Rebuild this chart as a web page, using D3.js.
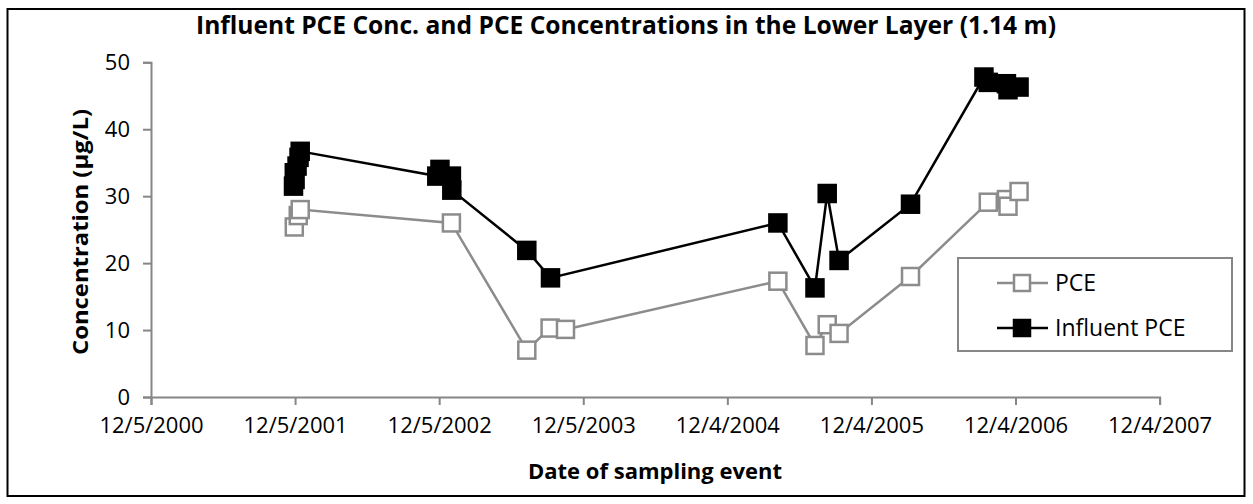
<!DOCTYPE html>
<html>
<head>
<meta charset="utf-8">
<script src="https://cdn.jsdelivr.net/npm/d3@7"></script>
<style>
  body { margin: 0; background: #fff; }
  text { font-family: "Open Sans", sans-serif; }
</style>
</head>
<body>
<svg id="chart" width="1253" height="504"></svg>
<script>
// Data
var pceDates = ["2001-12-03", "2001-12-13", "2001-12-18", "2003-01-05", "2003-07-15", "2003-09-12",
    "2003-10-21", "2005-04-11", "2005-07-14", "2005-08-14", "2005-09-13", "2006-03-13",
    "2006-09-26", "2006-11-11", "2006-11-15", "2006-12-13"];
var pceValues = [25.4, 27.1, 28.0, 26.0, 7.0, 10.3, 10.1, 17.3, 7.7, 10.8, 9.5, 18.0, 29.1, 29.5, 28.5, 30.7];

var influentDates = ["2001-12-01", "2001-12-03", "2001-12-05", "2001-12-10", "2001-12-15", "2001-12-18",
    "2002-11-29", "2002-12-07", "2003-01-05", "2003-01-06", "2003-07-15", "2003-09-13",
    "2005-04-11", "2005-07-14", "2005-08-14", "2005-09-13", "2006-03-13",
    "2006-09-15", "2006-09-26", "2006-11-11", "2006-11-15", "2006-12-13"];
var influentValues = [31.5, 33.5, 32.5, 34.5, 35.8, 36.7, 33.0, 34.0, 33.0, 30.9, 21.9, 17.8,
    26.0, 16.3, 30.4, 20.4, 28.8, 47.8, 47.0, 46.8, 45.9, 46.3];

var xTickLabels = ["12/5/2000", "12/5/2001", "12/5/2002", "12/5/2003", "12/4/2004", "12/4/2005", "12/4/2006", "12/4/2007"];
var yTicks = [0, 10, 20, 30, 40, 50];
var seriesNames = ["PCE", "Influent PCE"];

var parse = d3.timeParse("%Y-%m-%d");
var tickParse = d3.timeParse("%m/%d/%Y");
var fmt = d3.timeFormat("%-m/%-d/%Y");

var svg = d3.select("#chart");

// outer frame
svg.append("rect")
    .attr("x", 7.5).attr("y", 9)
    .attr("width", 1237).attr("height", 487)
    .attr("fill", "#fff")
    .attr("stroke", "#000")
    .attr("stroke-width", 2);

var xTickDates = xTickLabels.map(function (d) { return tickParse(d); });

var x = d3.scaleTime()
    .domain([xTickDates[0], xTickDates[xTickDates.length - 1]])
    .range([151, 1159.6]);
var y = d3.scaleLinear()
    .domain([0, 50])
    .range([397, 62.3]);

// axes
var xAxis = svg.append("g")
    .attr("transform", "translate(0,397)")
    .call(d3.axisBottom(x).tickValues(xTickDates).tickFormat(fmt).tickSize(8).tickPadding(12));
var yAxis = svg.append("g")
    .attr("transform", "translate(151,0)")
    .call(d3.axisLeft(y).tickValues(yTicks).tickSize(8).tickPadding(13));

[xAxis, yAxis].forEach(function (g) {
    g.select(".domain").attr("stroke", "#868686").attr("stroke-width", 2);
    g.selectAll(".tick line").attr("stroke", "#868686").attr("stroke-width", 2);
    g.selectAll(".tick text")
        .attr("fill", "#000")
        .style("font-family", "Open Sans")
        .style("font-size", "22px");
});

// series
var pce = pceDates.map(function (d, i) { return { date: parse(d), value: pceValues[i] }; });
var influent = influentDates.map(function (d, i) { return { date: parse(d), value: influentValues[i] }; });

var line = d3.line()
    .x(function (d) { return x(d.date); })
    .y(function (d) { return y(d.value); });

var ms = 17;

function drawSeries(data, color, fill) {
    svg.append("path")
        .datum(data)
        .attr("d", line)
        .attr("fill", "none")
        .attr("stroke", color)
        .attr("stroke-width", 2.5);
    svg.append("g")
        .selectAll("rect")
        .data(data)
        .enter()
        .append("rect")
        .attr("x", function (d) { return x(d.date) - ms / 2; })
        .attr("y", function (d) { return y(d.value) - ms / 2; })
        .attr("width", ms)
        .attr("height", ms)
        .attr("fill", fill)
        .attr("stroke", color)
        .attr("stroke-width", 2.5);
}

drawSeries(pce, "#8c8c8c", "#fff");
drawSeries(influent, "#000", "#000");

// title
svg.append("text")
    .attr("x", 626).attr("y", 34)
    .attr("text-anchor", "middle")
    .attr("textLength", 860)
    .attr("lengthAdjust", "spacingAndGlyphs")
    .style("font-size", "25px")
    .style("font-weight", "bold")
    .text("Influent PCE Conc. and PCE Concentrations in the Lower Layer (1.14 m)");

// axis titles
svg.append("text")
    .attr("x", 655).attr("y", 479)
    .attr("text-anchor", "middle")
    .attr("textLength", 254)
    .attr("lengthAdjust", "spacingAndGlyphs")
    .style("font-size", "22px")
    .style("font-weight", "bold")
    .text("Date of sampling event");

svg.append("text")
    .attr("transform", "translate(88,232) rotate(-90)")
    .attr("text-anchor", "middle")
    .attr("textLength", 246)
    .attr("lengthAdjust", "spacingAndGlyphs")
    .style("font-size", "22px")
    .style("font-weight", "bold")
    .text("Concentration (µg/L)");

// legend
var legend = svg.append("g");
legend.append("rect")
    .attr("x", 958).attr("y", 258)
    .attr("width", 274).attr("height", 93)
    .attr("fill", "#fff")
    .attr("stroke", "#868686")
    .attr("stroke-width", 2);

var legendColors = ["#8c8c8c", "#000"];
var legendFills = ["#fff", "#000"];
var legendY = d3.scalePoint().domain(seriesNames).range([283, 328]);

seriesNames.forEach(function (name, i) {
    var ly = legendY(name);
    legend.append("line")
        .attr("x1", 997).attr("x2", 1048)
        .attr("y1", ly).attr("y2", ly)
        .attr("stroke", legendColors[i])
        .attr("stroke-width", 2.5);
    legend.append("rect")
        .attr("x", 1022 - 8).attr("y", ly - 8)
        .attr("width", 16).attr("height", 16)
        .attr("fill", legendFills[i])
        .attr("stroke", legendColors[i])
        .attr("stroke-width", 2.5);
    legend.append("text")
        .attr("x", 1055).attr("y", ly + 8)
        .style("font-size", "23px")
        .text(name);
});
</script>
</body>
</html>
